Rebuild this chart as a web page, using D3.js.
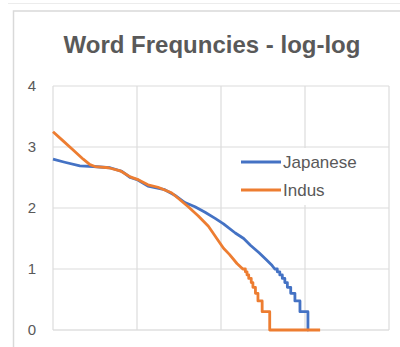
<!DOCTYPE html>
<html><head><meta charset="utf-8">
<script src="https://cdn.jsdelivr.net/npm/d3@7"></script>
<style>body{margin:0;background:#fff}svg{display:block}</style>
</head><body><div id="chart"></div>
<script>
const title = "Word Frequncies - log-log";
const seriesNames = ["Japanese", "Indus"];
const yTicks = [0, 1, 2, 3, 4];
const xTicks = [0, 1, 2, 3, 4];

// log10(rank) and log10(frequency)
const japaneseLogRank = [0, 0.14, 0.32, 0.48, 0.68, 0.82, 0.92, 1.01, 1.13, 1.33, 1.45, 1.57, 1.69, 1.81, 1.93, 2.03, 2.17, 2.27, 2.35, 2.45, 2.54, 2.60,
  2.64, 2.67, 2.67, 2.70, 2.70, 2.73, 2.73, 2.76, 2.76, 2.79, 2.79, 2.83, 2.83, 2.88, 2.88, 2.94, 2.94, 3.035, 3.035, 3.04];
const japaneseLogFreq = [2.80, 2.75, 2.69, 2.68, 2.66, 2.60, 2.50, 2.46, 2.36, 2.30, 2.21, 2.09, 2.02, 1.93, 1.83, 1.74, 1.59, 1.50, 1.39, 1.27, 1.15, 1.07,
  1.0, 1.0, 0.954, 0.954, 0.903, 0.903, 0.845, 0.845, 0.778, 0.778, 0.699, 0.699, 0.602, 0.602, 0.477, 0.477, 0.301, 0.301, 0, 0];

const indusLogRank = [0, 0.12, 0.24, 0.36, 0.44, 0.50, 0.66, 0.80, 0.92, 1.02, 1.13, 1.25, 1.41, 1.49, 1.61, 1.73, 1.85, 1.95, 2.03, 2.10, 2.19,
  2.26, 2.29, 2.29, 2.31, 2.31, 2.33, 2.33, 2.36, 2.36, 2.38, 2.38, 2.41, 2.41, 2.44, 2.44, 2.49, 2.49, 2.58, 2.58, 3.18];
const indusLogFreq = [3.25, 3.10, 2.95, 2.80, 2.71, 2.68, 2.66, 2.61, 2.51, 2.46, 2.38, 2.34, 2.25, 2.16, 2.02, 1.87, 1.70, 1.50, 1.34, 1.24, 1.09,
  1.0, 1.0, 0.954, 0.954, 0.903, 0.903, 0.845, 0.845, 0.778, 0.778, 0.699, 0.699, 0.602, 0.602, 0.477, 0.477, 0.301, 0.301, 0, 0];

const colors = ["#4472C4", "#ED7D31"];

const W = 400, H = 347;
const svg = d3.select("#chart").append("svg").attr("width", W).attr("height", H);

// outer frame
svg.append("line").attr("x1", 8).attr("x2", W).attr("y1", 3.5).attr("y2", 3.5)
  .attr("stroke", "#ececec").attr("stroke-width", 1);
svg.append("rect").attr("x", 13.5).attr("y", 11).attr("width", 420).attr("height", 400)
  .attr("fill", "#fff").attr("stroke", "#d9d9d9").attr("stroke-width", 1.5);

const x = d3.scaleLinear().domain([0, 4]).range([53, 389]);
const y = d3.scaleLinear().domain([0, 4]).range([330, 86]);

// gridlines
const g = svg.append("g");
g.selectAll(".hg").data(yTicks).join("line")
  .attr("x1", x(0)).attr("x2", x(4)).attr("y1", d => y(d)).attr("y2", d => y(d))
  .attr("stroke", d => d === 0 ? "#d0d0d0" : "#dcdcdc").attr("stroke-width", 1.2);
g.selectAll(".vg").data(xTicks).join("line")
  .attr("y1", y(0)).attr("y2", y(4)).attr("x1", d => x(d)).attr("x2", d => x(d))
  .attr("stroke", "#dcdcdc").attr("stroke-width", 1.2);

// y axis labels
const yAxis = d3.axisLeft(y).tickValues(yTicks).tickSize(0).tickPadding(0).tickFormat(d3.format("d"));
const ya = svg.append("g").attr("transform", "translate(36,0)").call(yAxis);
ya.select(".domain").remove();
ya.selectAll("text").attr("font-family", "Liberation Sans, Arial, sans-serif")
  .attr("font-size", 15).attr("fill", "#595959");

// title
svg.append("text").attr("x", 212).attr("y", 53).attr("text-anchor", "middle")
  .attr("font-family", "Liberation Sans, Arial, sans-serif").attr("font-weight", "bold")
  .attr("font-size", 24).attr("fill", "#595959").text(title);

// legend background
svg.append("rect").attr("x", 236).attr("y", 148).attr("width", 146).attr("height", 57).attr("fill", "#fff");

const line = d3.line().x(d => x(d[0])).y(d => y(d[1]));
const series = [
  d3.zip(japaneseLogRank, japaneseLogFreq),
  d3.zip(indusLogRank, indusLogFreq)
];
series.forEach((s, i) => {
  svg.append("path").datum(s).attr("d", line).attr("fill", "none")
    .attr("stroke", colors[i]).attr("stroke-width", 2.8).attr("stroke-linejoin", "round");
});

// legend
const lg = svg.append("g");
seriesNames.forEach((n, i) => {
  const ly = 162 + i * 28;
  lg.append("line").attr("x1", 241).attr("x2", 281).attr("y1", ly).attr("y2", ly)
    .attr("stroke", colors[i]).attr("stroke-width", 2.8);
  lg.append("text").attr("x", 283).attr("y", ly + 6).attr("font-family", "Liberation Sans, Arial, sans-serif")
    .attr("font-size", 17).attr("fill", "#595959").text(n);
});
</script></body></html>
